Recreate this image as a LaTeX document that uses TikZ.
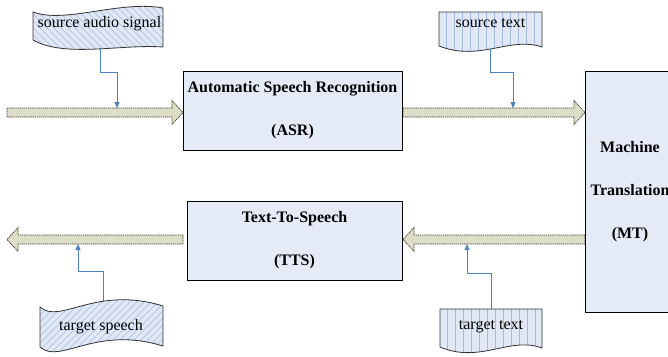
\documentclass[tikz,border=0pt]{standalone}
\usepackage{fontspec}
\setmainfont{Liberation Serif}
\usetikzlibrary{arrows.meta}
\definecolor{boxfill}{RGB}{229,235,246}
\definecolor{arrfill}{RGB}{221,221,200}
\definecolor{arrline}{RGB}{55,55,45}
\definecolor{connblue}{RGB}{79,129,189}
\definecolor{shapefill}{RGB}{224,232,245}
\definecolor{hatchblue}{RGB}{165,188,224}
\tikzset{
 procbox/.style={draw=black, line width=0.9pt, fill=boxfill, inner sep=0pt, align=center,
   font=\bfseries\fontsize{16}{43}\selectfont},
 fatarrow/.style={fill=arrfill, draw=arrline, line width=0.7pt, dash pattern=on 1.3pt off 0.8pt},
 conn/.style={draw=connblue, line width=0.9pt, -{Triangle[length=6pt,width=5pt]}},
 dataedge/.style={draw=black!80, line width=0.8pt},
 datafill/.style={fill=shapefill},
 hatch/.style={draw=hatchblue, line width=0.5pt},
 lbl/.style={inner sep=0pt, font=\fontsize{16}{19}\selectfont},
}
\newcommand{\sasshape}{(33,12) .. controls (65,24) and (120,0) .. (163,8) -- (163,47) .. controls (120,44) and (65,58) .. (33,40) -- cycle}
\newcommand{\tspshape}{(40,307) .. controls (60,325) and (95,285) .. (163,306) -- (163,346) .. controls (95,325) and (60,365) .. (40,347) -- cycle}
\newcommand{\stxshape}{(439,12) -- (542,12) -- (542,47) .. controls (510,36) and (480,62) .. (439,46) -- cycle}
\newcommand{\ttxshape}{(440,309) -- (542,309) -- (542,348) .. controls (510,336) and (480,364) .. (440,347) -- cycle}
\begin{document}
\begin{tikzpicture}[x=1pt,y=-1pt]
\useasboundingbox (0,0) rectangle (668,356);
\clip (0,0) rectangle (668,356);

% fat arrows
\path[fatarrow] (7,108) -- (172,108) -- (172,100.5) -- (183,112.5) -- (172,124.5) -- (172,117) -- (7,117) -- cycle;
\path[fatarrow] (403,108) -- (574,108) -- (574,100.5) -- (585,112.5) -- (574,124.5) -- (574,117) -- (403,117) -- cycle;
\path[fatarrow] (585,235) -- (414,235) -- (414,227.5) -- (403,239.5) -- (414,251.5) -- (414,244) -- (585,244) -- cycle;
\path[fatarrow] (183,235) -- (18,235) -- (18,227.5) -- (7,239.5) -- (18,251.5) -- (18,244) -- (183,244) -- cycle;

% process boxes
\node[procbox, minimum width=219pt, minimum height=79pt] (asr) at (292.5,110.5) {Automatic Speech Recognition\\(ASR)};
\node[procbox, minimum width=215pt, minimum height=79pt] (tts) at (294.5,240.5) {Text-To-Speech\\(TTS)};
\node[procbox, minimum width=90pt, minimum height=241pt] (mt) at (630,191.5) {Machine\\Translation\\(MT)};

% connector end points
\coordinate (sasb) at (100,46);
\coordinate (stxb) at (490,46);
\coordinate (tspt) at (103,306);
\coordinate (ttxt) at (491,312);
\coordinate (a1in) at (117,108);
\coordinate (a2in) at (513,108);
\coordinate (a3in) at (467,244);
\coordinate (a4in) at (78,244);

\draw[conn] (sasb) -- ++(0,26) -| (a1in);
\draw[conn] (stxb) -- ++(0,26) -| (a2in);
\draw[conn] (ttxt) -- ++(0,-39) -| (a3in);
\draw[conn] (tspt) -- ++(0,-35) -| (a4in);

% data shapes
\path[datafill] \sasshape;
\begin{scope}
 \clip \sasshape;
 \foreach \k in {-70,-63,...,180} \draw[hatch] (\k,-5) -- (\k+65,60);
\end{scope}
\path[dataedge] \sasshape;

\path[datafill] \tspshape;
\begin{scope}
 \clip \tspshape;
 \foreach \k in {-40,-33,...,180} \draw[hatch] (\k,360) -- (\k+65,295);
\end{scope}
\path[dataedge] \tspshape;

\path[datafill] \stxshape;
\begin{scope}
 \clip \stxshape;
 \foreach \k in {446,454,...,542} \draw[hatch] (\k,5) -- (\k,65);
\end{scope}
\path[dataedge] \stxshape;

\path[datafill] \ttxshape;
\begin{scope}
 \clip \ttxshape;
 \foreach \k in {447,455,...,542} \draw[hatch] (\k,300) -- (\k,365);
\end{scope}
\path[dataedge] \ttxshape;

\node[lbl] (sastxt) at (99.5,24) {source audio signal};
\node[lbl] (stxtxt) at (490.5,23) {source text};
\node[lbl] (tsptxt) at (101,327) {target speech};
\node[lbl] (ttxtxt) at (491,327) {target text};
\end{tikzpicture}
\end{document}
